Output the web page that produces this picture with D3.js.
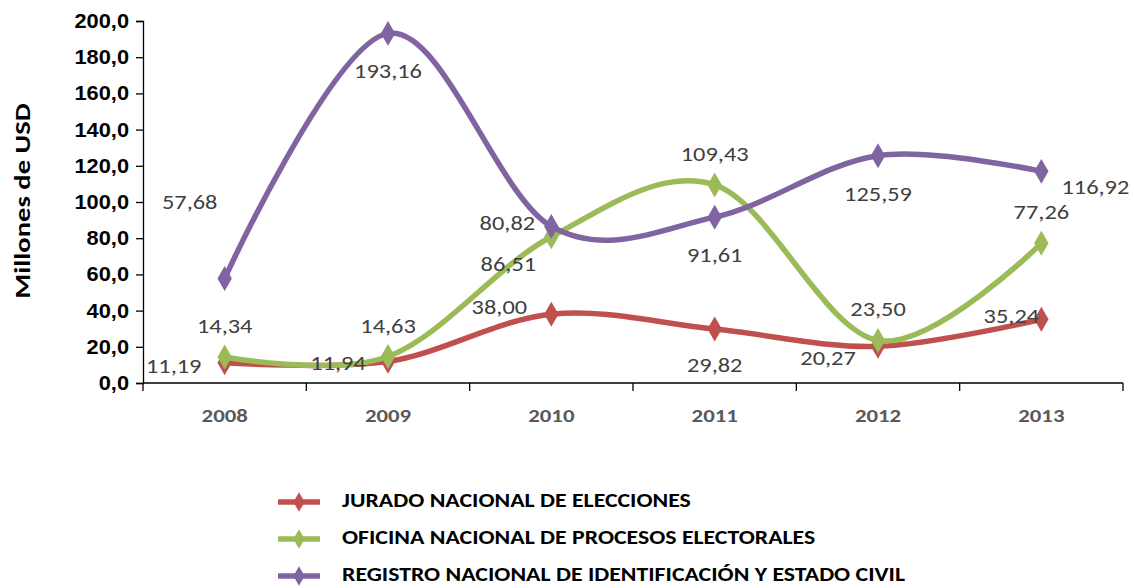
<!DOCTYPE html>
<html>
<head>
<meta charset="utf-8">
<script src="https://cdn.jsdelivr.net/npm/d3@7/dist/d3.min.js"></script>
<style>
  html, body { margin: 0; padding: 0; background: #fff; }
  svg { display: block; font-family: Carlito, Calibri, Lato, "Open Sans", sans-serif; }
</style>
</head>
<body>
<svg id="chart" width="1134" height="588"></svg>
<script>
"use strict";

const years = ["2008", "2009", "2010", "2011", "2012", "2013"];
const jneValues = [11.19, 11.94, 38.00, 29.82, 20.27, 35.24];
const onpeValues = [14.34, 14.63, 80.82, 109.43, 23.50, 77.26];
const renieValues = [57.68, 193.16, 86.51, 91.61, 125.59, 116.92];
const seriesNames = [
  "JURADO NACIONAL DE ELECCIONES",
  "OFICINA NACIONAL DE PROCESOS ELECTORALES",
  "REGISTRO NACIONAL DE IDENTIFICACIÓN Y ESTADO CIVIL"
];
const yTicks = [0, 20, 40, 60, 80, 100, 120, 140, 160, 180, 200];

// label offsets (dx, dy from the marker) per series, per year
const labelOffsets = [
  [[-51, 5], [-50, 4], [-52, -5], [0, 38], [-50, 14], [-30, -1]],
  [[0, -29], [0, -29], [-44, -12], [0, -29], [0, -29], [0, -29]],
  [[-35, -75], [0, 40], [-43, 40], [0, 40], [0, 40], [54, 18]]
];
const colors = ["#C0504D", "#9BBB59", "#8064A2"];

const svg = d3.select("#chart");
const margin = { left: 143, right: 11, top: 21, bottom: 205 };
const width = 1134 - margin.left - margin.right;
const height = 588 - margin.top - margin.bottom;
const g = svg.append("g").attr("transform", "translate(" + margin.left + "," + margin.top + ")");

const x = d3.scaleBand().domain(years).range([0, width]);
const y = d3.scaleLinear().domain([0, 200]).range([height, 0]);
const cx = function (i) { return x(years[i]) + x.bandwidth() / 2; };
const fmt = function (v) { return v.toFixed(2).replace(".", ","); };

// y axis
const yAxis = g.append("g").call(d3.axisLeft(y).tickValues(yTicks).tickSize(7).tickPadding(10).tickFormat(function (d) { return d.toFixed(1).replace(".", ","); }));
yAxis.select(".domain").attr("stroke", "#000").attr("stroke-width", 1.3);
yAxis.selectAll(".tick line").attr("stroke", "#000").attr("stroke-width", 1.3);
yAxis.selectAll(".tick text").attr("fill", "#000").attr("font-size", 20).attr("font-weight", "bold")
  .attr("x", -14 / 1.09).attr("transform", "scale(1.09,1)");

// x axis with ticks at category boundaries
const xAxisG = g.append("g").attr("transform", "translate(0," + height + ")");
xAxisG.append("line").attr("x1", 0).attr("x2", width).attr("stroke", "#000").attr("stroke-width", 1.3);
xAxisG.selectAll("line.bound").data(years.concat(["end"])).join("line").attr("class", "bound")
  .attr("x1", function (d, i) { return i * x.bandwidth(); }).attr("x2", function (d, i) { return i * x.bandwidth(); })
  .attr("y1", 0).attr("y2", 8).attr("stroke", "#000").attr("stroke-width", 1.3);
xAxisG.selectAll("text").data(years).join("text")
  .attr("transform", function (d, i) { return "translate(" + cx(i) + ",39) scale(1.2,1)"; })
  .attr("text-anchor", "middle").attr("font-size", 19).attr("font-weight", "bold").attr("fill", "#595959")
  .text(function (d) { return d; });

// y title
svg.append("text").attr("transform", "translate(30,201) rotate(-90) scale(1.3,1)").attr("text-anchor", "middle")
  .attr("font-size", 22).attr("font-weight", "bold").attr("fill", "#000").text("Millones de USD");

const allSeries = [jneValues, onpeValues, renieValues];
const line = d3.line().x(function (d, i) { return cx(i); }).y(function (d) { return y(d); }).curve(d3.curveCardinal.tension(0));
const diamond = d3.symbol().type(d3.symbolDiamond).size(180);

allSeries.forEach(function (vals, s) {
  const sg = g.append("g");
  sg.append("path").datum(vals).attr("d", line).attr("fill", "none").attr("stroke", colors[s]).attr("stroke-width", 5.5).attr("stroke-linecap", "round");
  sg.selectAll("path.mk").data(vals).join("path").attr("class", "mk").attr("d", diamond).attr("fill", colors[s])
    .attr("transform", function (d, i) { return "translate(" + cx(i) + "," + y(d) + ")"; });
});

allSeries.forEach(function (vals, s) {
  g.append("g").selectAll("text").data(vals).join("text")
    .attr("transform", function (d, i) { return "translate(" + (cx(i) + labelOffsets[s][i][0]) + "," + (y(d) + labelOffsets[s][i][1]) + ") scale(1.16,1)"; })
    .attr("text-anchor", "middle").attr("dominant-baseline", "middle")
    .attr("font-size", 21).attr("fill", "#404040").text(fmt);
});

// legend
const legend = svg.append("g").attr("transform", "translate(278,502)");
seriesNames.forEach(function (name, i) {
  const row = legend.append("g").attr("transform", "translate(0," + (i * 37) + ")");
  row.append("line").attr("x1", 0).attr("x2", 42).attr("stroke", colors[i]).attr("stroke-width", 5.5);
  row.append("path").attr("d", d3.symbol().type(d3.symbolDiamond).size(110)).attr("fill", colors[i]).attr("transform", "translate(21,0)");
  row.append("text").attr("transform", "translate(64,0) scale(1.22,1)").attr("dominant-baseline", "middle")
    .attr("font-size", 19.5).attr("font-weight", "bold").attr("fill", "#000").text(name);
});
</script>
</body>
</html>
